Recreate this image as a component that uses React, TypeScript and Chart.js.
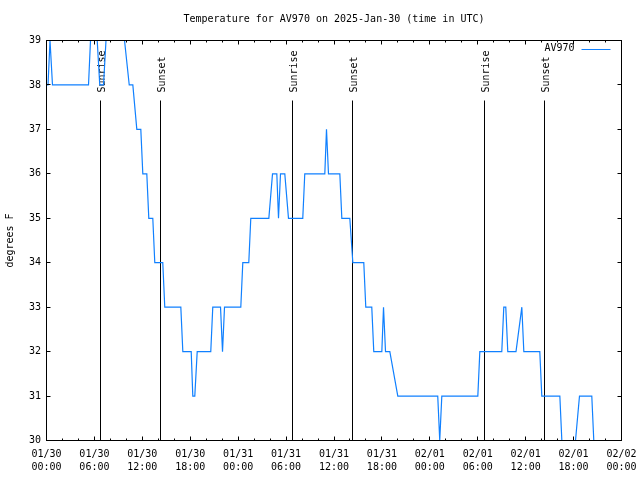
import { useEffect, useRef } from 'react';
import { Chart, registerables } from 'chart.js';

Chart.register(...registerables);

const FONT = "'DejaVu Sans Mono', 'Liberation Mono', monospace";
const TITLE = 'Temperature for AV970 on 2025-Jan-30 (time in UTC)';
const SERIES_LABEL = 'AV970';
const Y_TITLE = 'degrees F';
const LINE_COLOR = 'rgb(16,128,255)';

// hours since 2025-01-30 00:00 UTC
const hours = [
  0, 0.19, 0.44, 0.56, 0.75, 5.26, 5.51, 6.35, 6.67, 7.14, 7.45, 9.77, 10.36, 10.81, 11.31, 11.81,
  12.06, 12.56, 12.81, 13.31, 13.56, 14.56, 14.81, 16.82, 17.07, 18.12, 18.32, 18.57, 18.87, 20.57,
  20.82, 21.79, 22.04, 22.29, 24.33, 24.58, 25.33, 25.58, 27.84, 28.3, 28.84, 29.05, 29.3, 29.84,
  30.3, 32.09, 32.34, 34.85, 35.06, 35.31, 36.73, 36.98, 37.98, 38.36, 39.73, 39.98, 40.73, 40.98,
  41.99, 42.2, 42.45, 42.99, 43.99, 48.99, 49.24, 49.5, 54.01, 54.26, 57.01, 57.26, 57.51, 57.76,
  58.79, 59.52, 59.77, 61.77, 62.02, 64.28, 64.53, 66.24, 66.74, 68.28, 68.53, 68.87,
];
const tempsF = [
  38, 38, 39, 39, 38, 38, 39, 39, 38, 38, 39, 39, 38, 38, 37, 37,
  36, 36, 35, 35, 34, 34, 33, 33, 32, 32, 31, 31, 32, 32,
  33, 33, 32, 33, 33, 34, 34, 35, 35, 36, 36, 35, 36, 36,
  35, 35, 36, 36, 37, 36, 36, 35, 35, 34, 34, 33, 33, 32,
  32, 33, 32, 32, 31, 31, 30, 31, 31, 32, 32, 33, 33, 32,
  32, 33, 32, 32, 31, 31, 30, 30, 31, 31, 30, 30,
];

const xTickLabels = [
  ['01/30', '00:00'], ['01/30', '06:00'], ['01/30', '12:00'], ['01/30', '18:00'],
  ['01/31', '00:00'], ['01/31', '06:00'], ['01/31', '12:00'], ['01/31', '18:00'],
  ['02/01', '00:00'], ['02/01', '06:00'], ['02/01', '12:00'], ['02/01', '18:00'],
  ['02/02', '00:00'],
];

const sunEventHours = [6.76, 14.28, 30.8, 38.3, 54.85, 62.35];
const sunEventLabels = ['Sunrise', 'Sunset', 'Sunrise', 'Sunset', 'Sunrise', 'Sunset'];

const X_MIN = 0;
const X_MAX = 72;
const X_MAJOR_STEP = 6;
const X_MINOR_STEP = 2;
const Y_MIN = 30;
const Y_MAX = 39;

const crisp = (v: number) => Math.round(v - 0.5) + 0.5;

const gnuplotDecor = {
  id: 'gnuplotDecor',
  beforeDatasetsDraw(chart: any) {
    const { ctx, chartArea: a, scales } = chart;
    const x = scales.x;
    const h = a.bottom - a.top;
    ctx.save();
    ctx.strokeStyle = '#000';
    ctx.fillStyle = '#000';
    ctx.lineWidth = 1;
    ctx.font = `10px ${FONT}`;
    sunEventHours.forEach((hr, i) => {
      const px = crisp(x.getPixelForValue(hr));
      ctx.beginPath();
      ctx.moveTo(px, a.top + h * 0.15);
      ctx.lineTo(px, a.bottom);
      ctx.stroke();
      ctx.save();
      ctx.translate(px + 1.5, a.top + h * 0.13);
      ctx.rotate(-Math.PI / 2);
      ctx.textAlign = 'left';
      ctx.textBaseline = 'middle';
      ctx.fillText(sunEventLabels[i], 0, 0);
      ctx.restore();
    });
    ctx.restore();
  },
  afterDatasetsDraw(chart: any) {
    const { ctx, chartArea: a, scales } = chart;
    const x = scales.x;
    const y = scales.y;
    ctx.save();
    ctx.strokeStyle = '#000';
    ctx.lineWidth = 1;
    // ticks (inward, mirrored)
    ctx.beginPath();
    for (let v = X_MIN; v <= X_MAX; v += X_MINOR_STEP) {
      const len = v % X_MAJOR_STEP === 0 ? 4 : 2;
      const px = crisp(x.getPixelForValue(v));
      ctx.moveTo(px, a.bottom);
      ctx.lineTo(px, a.bottom - len);
      ctx.moveTo(px, a.top);
      ctx.lineTo(px, a.top + len);
    }
    for (let v = Y_MIN; v <= Y_MAX; v += 1) {
      const py = crisp(y.getPixelForValue(v));
      ctx.moveTo(a.left, py);
      ctx.lineTo(a.left + 4, py);
      ctx.moveTo(a.right, py);
      ctx.lineTo(a.right - 4, py);
    }
    ctx.stroke();
    // frame
    ctx.strokeRect(a.left, a.top, a.right - a.left, a.bottom - a.top);
    // key
    ctx.font = `10px ${FONT}`;
    ctx.fillStyle = '#000';
    ctx.textAlign = 'right';
    ctx.textBaseline = 'middle';
    ctx.fillText(chart.data.datasets[0].label, a.right - 47, a.top + 7.5);
    ctx.strokeStyle = LINE_COLOR;
    ctx.beginPath();
    ctx.moveTo(a.right - 40, a.top + 9);
    ctx.lineTo(a.right - 11, a.top + 9);
    ctx.stroke();
    ctx.restore();
  },
};

export default function App() {
  const ref = useRef<HTMLCanvasElement>(null);
  useEffect(() => {
    const canvas = ref.current;
    if (!canvas) return;
    const tickFont = { family: FONT, size: 10, weight: 'normal' as const, lineHeight: '13px' };
    const chart = new Chart(canvas, {
      type: 'line',
      data: {
        datasets: [
          {
            label: SERIES_LABEL,
            data: hours.map((hr, i) => ({ x: hr, y: tempsF[i] })),
            borderColor: LINE_COLOR,
            backgroundColor: LINE_COLOR,
            borderWidth: 1.2,
            pointRadius: 0,
            tension: 0,
            fill: false,
          },
        ],
      },
      options: {
        responsive: false,
        animation: false,
        devicePixelRatio: 1,
        layout: { padding: { left: 0, right: 18.5, top: 0, bottom: 0 } },
        plugins: {
          legend: { display: false },
          tooltip: { enabled: false },
          title: {
            display: true,
            text: TITLE,
            fullSize: false,
            color: '#000',
            font: { family: FONT, size: 10, weight: 'normal', lineHeight: '12px' },
            padding: { top: 13, bottom: 15.5 },
          },
        },
        scales: {
          x: {
            type: 'linear',
            min: X_MIN,
            max: X_MAX,
            afterFit: (s: any) => {
              s.height = 39.5;
              s.paddingLeft = 0;
              s.paddingRight = 0;
            },
            grid: { display: false, drawTicks: false },
            border: { display: false },
            ticks: {
              stepSize: X_MAJOR_STEP,
              autoSkip: false,
              maxRotation: 0,
              minRotation: 0,
              padding: 7,
              color: '#000',
              font: tickFont,
              callback: (_v: any, i: number) => xTickLabels[i],
            },
          },
          y: {
            type: 'linear',
            min: Y_MIN,
            max: Y_MAX,
            afterFit: (s: any) => {
              s.width = 46.5;
              s.paddingTop = 0;
              s.paddingBottom = 0;
            },
            grid: { display: false, drawTicks: false },
            border: { display: false },
            ticks: {
              stepSize: 1,
              padding: 5.5,
              color: '#000',
              font: tickFont,
            },
            title: {
              display: true,
              text: Y_TITLE,
              color: '#000',
              font: { family: FONT, size: 10, weight: 'normal', lineHeight: '12px' },
              padding: { top: 4, bottom: 0 },
            },
          },
        },
      },
      plugins: [gnuplotDecor],
    });
    return () => chart.destroy();
  }, []);
  return (
    <div style={{ position: 'fixed', left: 0, top: 0, width: 640, height: 480, background: '#fff' }}>
      <canvas ref={ref} width={640} height={480} style={{ display: 'block' }} />
    </div>
  );
}
